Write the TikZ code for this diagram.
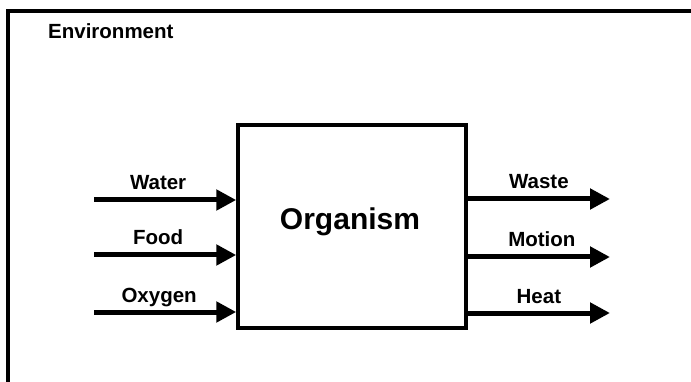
\documentclass[tikz,border=0pt]{standalone}
\usepackage{fontspec}
\setmainfont{Liberation Sans}
\usetikzlibrary{arrows.meta}
\begin{document}
\begin{tikzpicture}[
  x=1pt, y=-1pt,
  env/.style={line width=4pt},
  organism/.style={rectangle, draw, line width=3.5pt, minimum width=228pt, minimum height=203pt},
  flow/.style={-{Triangle[length=20pt,width=20pt]}, line width=5pt},
  label/.style={anchor=base, yshift=10pt, font=\fontsize{20.5}{24}\selectfont\bfseries, inner sep=0pt}
]
  \useasboundingbox (0,0) rectangle (691,382);
  \draw[env] (700,11) -- (8,11) -- (8,390);
  \node[anchor=base west, font=\fontsize{20.5}{24}\selectfont\bfseries, inner sep=0pt] (envlabel) at (48,39) {Environment};

  \node[organism] (org) at (352,226.5) {};
  \node[anchor=base, font=\fontsize{30}{34}\selectfont\bfseries, inner sep=0pt] (orglabel) at (350,230) {Organism};

  \coordinate (water)  at (94,200);
  \coordinate (food)   at (94,255);
  \coordinate (oxygen) at (94,312);
  \coordinate (waste)  at (610,199);
  \coordinate (motion) at (610,257);
  \coordinate (heat)   at (610,313);

  \draw[flow] (water)  -- (water -| org.west)  node[label, midway, xshift=-7pt] (lwater) {Water};
  \draw[flow] (food)   -- (food -| org.west)   node[label, midway, xshift=-7pt] (lfood) {Food};
  \draw[flow] (oxygen) -- (oxygen -| org.west) node[label, midway, xshift=-6pt] (loxygen) {Oxygen};
  \draw[flow] (waste -| org.east)  -- (waste)  node[label, midway] (lwaste) {Waste};
  \draw[flow] (motion -| org.east) -- (motion) node[label, midway, xshift=3pt] (lmotion) {Motion};
  \draw[flow] (heat -| org.east)   -- (heat)   node[label, midway] (lheat) {Heat};
\end{tikzpicture}
\end{document}
